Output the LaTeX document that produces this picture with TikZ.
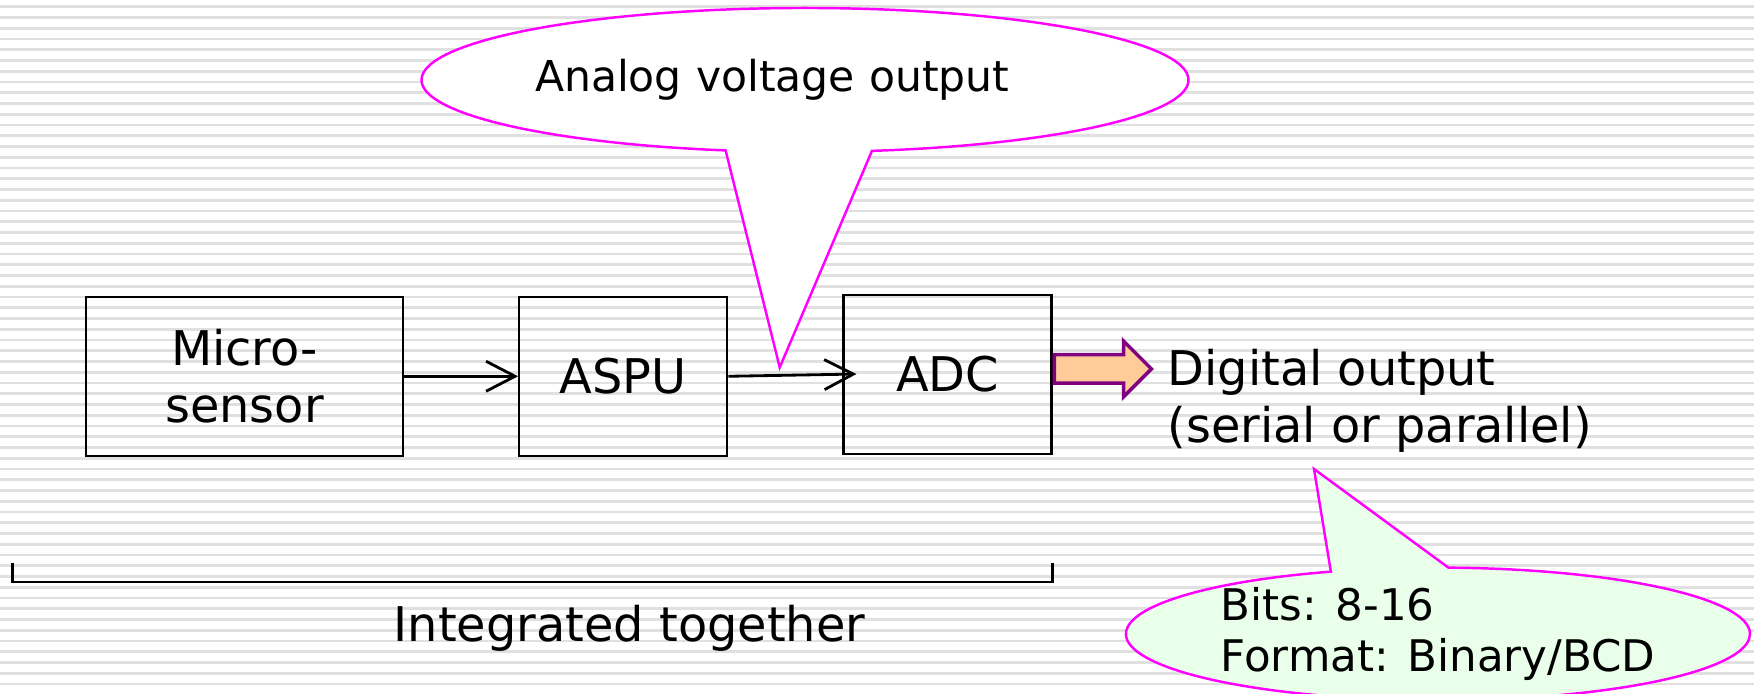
\documentclass[tikz,border=0pt]{standalone}
\usepackage{fontspec}
\setmainfont{DejaVu Sans}
\usepackage{xcolor}
\usetikzlibrary{positioning, arrows.meta, shapes.arrows, shapes.callouts, calc}

\definecolor{stripegray}{RGB}{224,224,224}
\definecolor{calloutpink}{RGB}{255,0,255}
\definecolor{mintfill}{RGB}{234,255,234}
\definecolor{peach}{RGB}{255,204,153}
\definecolor{plum}{RGB}{128,0,128}

\newcommand{\bigtxt}{\fontsize{13.6}{16.2}\selectfont}
\newcommand{\smalltxt}{\fontsize{12.1}{14.7}\selectfont}

\begin{document}
\begin{tikzpicture}[
    node distance=1.14cm,
    block/.style={draw, line width=0.65pt, minimum width=2.08cm, minimum height=1.59cm, align=center, font=\bigtxt, inner sep=0pt},
    arr/.style={-{Straight Barb[length=2.9mm, width=3mm]}, line width=0.8pt},
    bubble/.style={ellipse callout, draw=calloutpink, line width=0.7pt, inner sep=0pt, align=left, font=\smalltxt, callout pointer arc=22},
    txt/.style={font=\bigtxt, inner sep=0pt, align=left}
]

\useasboundingbox (0,0) rectangle (17.54,6.94);
% striped slide background
\foreach \k in {0,...,63}
    \draw[stripegray, line width=0.8pt] (0,{6.873-0.1075*\k}) -- (17.54,{6.873-0.1075*\k});

\node[block, minimum width=3.17cm] (sensor) at (2.445,3.177) {Micro-\\sensor};
\node[block, right=of sensor] (aspu) {ASPU};
\node[block, right=of aspu, yshift=0.02cm] (adc) {ADC};

\node[single arrow, draw=plum, fill=peach, line width=1pt, minimum height=0.97cm, minimum width=0.52cm,
      single arrow head extend=0.135cm, inner xsep=0pt, inner ysep=0.125cm, right=0cm of adc, yshift=0.053cm] (outarr) {};
\node[txt, anchor=north west] (digital) at ($(outarr.tip)+(0.13,0.2)$) {Digital output\\(serial or parallel)};

\draw[arr] (sensor) -- (aspu);
\draw[arr, shorten >=-0.14cm] (aspu.east) -- (adc.west);

% callouts
\node[bubble, fill=white, minimum width=7.67cm, minimum height=1.44cm, text width=5.4cm,
      callout absolute pointer={($(aspu.east)!0.45!(adc.west)+(0,0.08)$)}] (analog) at (8.05,6.14) {Analog voltage output};
\node[bubble, fill=mintfill, minimum width=6.24cm, minimum height=1.26cm, font=\fontsize{12.4}{14.7}\selectfont,
      callout absolute pointer={(13.14,2.25)}] (bits) at (14.38,0.6) {Bits: 8-16\\Format: Binary/BCD};

% integration bracket
\coordinate (intl) at (0.127,1.31);
\coordinate (intr) at (10.527,1.31);
\draw[line width=0.8pt] (intl) -- ++(0,-0.19) -| (intr);
\node[txt, anchor=base] (integ) at (6.295,0.52) {Integrated together};

\end{tikzpicture}
\end{document}
